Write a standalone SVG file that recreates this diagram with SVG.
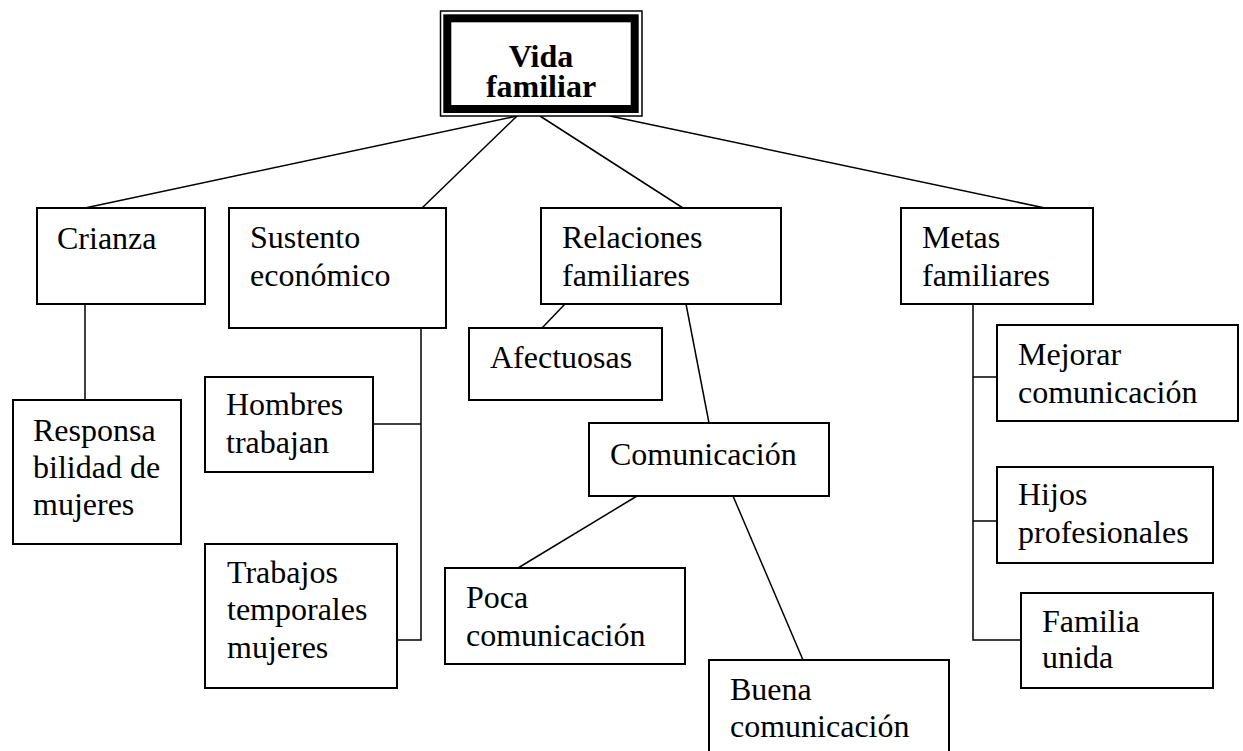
<svg xmlns="http://www.w3.org/2000/svg" width="1243" height="751" viewBox="0 0 1243 751">
<style>
.box{fill:#fff;stroke:#000;stroke-width:2}
.t{font-family:"Liberation Serif","Times New Roman",serif;font-size:32px;fill:#000}
.b{font-family:"Liberation Serif","Times New Roman",serif;font-size:32px;font-weight:bold;fill:#000;text-anchor:middle}
.c{fill:none;stroke:#000;stroke-width:1.5}
</style>
<rect width="1243" height="751" fill="#fff"/>
<g id="connectors">
<line class="c" x1="517" y1="116" x2="85" y2="208"/>
<line class="c" x1="517" y1="116" x2="422" y2="208"/>
<line class="c" x1="540" y1="116" x2="683" y2="208"/>
<line class="c" x1="610" y1="116" x2="1045" y2="208"/>
<line class="c" x1="85" y1="304" x2="85" y2="400"/>
<polyline class="c" points="421,328 421,640 397,640"/>
<line class="c" x1="373" y1="424" x2="421" y2="424"/>
<line class="c" x1="565" y1="304" x2="542" y2="328"/>
<line class="c" x1="686" y1="304" x2="709" y2="423"/>
<line class="c" x1="637" y1="496" x2="518" y2="568"/>
<line class="c" x1="733" y1="496" x2="803" y2="660"/>
<polyline class="c" points="973,304 973,640 1021,640"/>
<line class="c" x1="973" y1="377" x2="997" y2="377"/>
<line class="c" x1="973" y1="521" x2="997" y2="521"/>
</g>
<g id="vida-familiar">
<rect x="440.5" y="11" width="201.5" height="105" fill="#fff" stroke="#000" stroke-width="1.5"/>
<rect x="447.3" y="18.3" width="187.4" height="90.7" fill="#fff" stroke="#000" stroke-width="8"/>
<text class="b" x="541" y="67">Vida</text>
<text class="b" x="541" y="97">familiar</text>
</g>
<g id="crianza">
<rect class="box" x="37" y="208" width="168" height="96"/>
<text class="t" x="57" y="249">Crianza</text>
</g>
<g id="sustento">
<rect class="box" x="229" y="208" width="217" height="120"/>
<text class="t" x="250" y="248">Sustento</text>
<text class="t" x="250" y="286">económico</text>
</g>
<g id="relaciones">
<rect class="box" x="541" y="208" width="240" height="96"/>
<text class="t" x="562" y="248">Relaciones</text>
<text class="t" x="562" y="286">familiares</text>
</g>
<g id="metas">
<rect class="box" x="901" y="208" width="192" height="96"/>
<text class="t" x="922" y="248">Metas</text>
<text class="t" x="922" y="286">familiares</text>
</g>
<g id="responsabilidad">
<rect class="box" x="13" y="400" width="168" height="144"/>
<text class="t" x="33" y="441">Responsa</text>
<text class="t" x="33" y="478">bilidad de</text>
<text class="t" x="33" y="515">mujeres</text>
</g>
<g id="hombres">
<rect class="box" x="205" y="377" width="168" height="95"/>
<text class="t" x="226" y="415">Hombres</text>
<text class="t" x="226" y="453">trabajan</text>
</g>
<g id="trabajos">
<rect class="box" x="205" y="544" width="192" height="144"/>
<text class="t" x="227" y="583">Trabajos</text>
<text class="t" x="227" y="620">temporales</text>
<text class="t" x="227" y="658">mujeres</text>
</g>
<g id="afectuosas">
<rect class="box" x="469" y="328" width="193" height="72"/>
<text class="t" x="490" y="368">Afectuosas</text>
</g>
<g id="comunicacion">
<rect class="box" x="589" y="423" width="240" height="73"/>
<text class="t" x="610" y="465">Comunicación</text>
</g>
<g id="poca">
<rect class="box" x="445" y="568" width="240" height="96"/>
<text class="t" x="466" y="608">Poca</text>
<text class="t" x="466" y="646">comunicación</text>
</g>
<g id="buena">
<rect class="box" x="709" y="660" width="240" height="100"/>
<text class="t" x="730" y="700">Buena</text>
<text class="t" x="730" y="737">comunicación</text>
</g>
<g id="mejorar">
<rect class="box" x="997" y="325" width="241" height="96"/>
<text class="t" x="1018" y="365">Mejorar</text>
<text class="t" x="1018" y="403">comunicación</text>
</g>
<g id="hijos">
<rect class="box" x="997" y="467" width="216" height="96"/>
<text class="t" x="1018" y="505">Hijos</text>
<text class="t" x="1018" y="543">profesionales</text>
</g>
<g id="familia">
<rect class="box" x="1021" y="593" width="192" height="95"/>
<text class="t" x="1042" y="632">Familia</text>
<text class="t" x="1042" y="668">unida</text>
</g>
</svg>
